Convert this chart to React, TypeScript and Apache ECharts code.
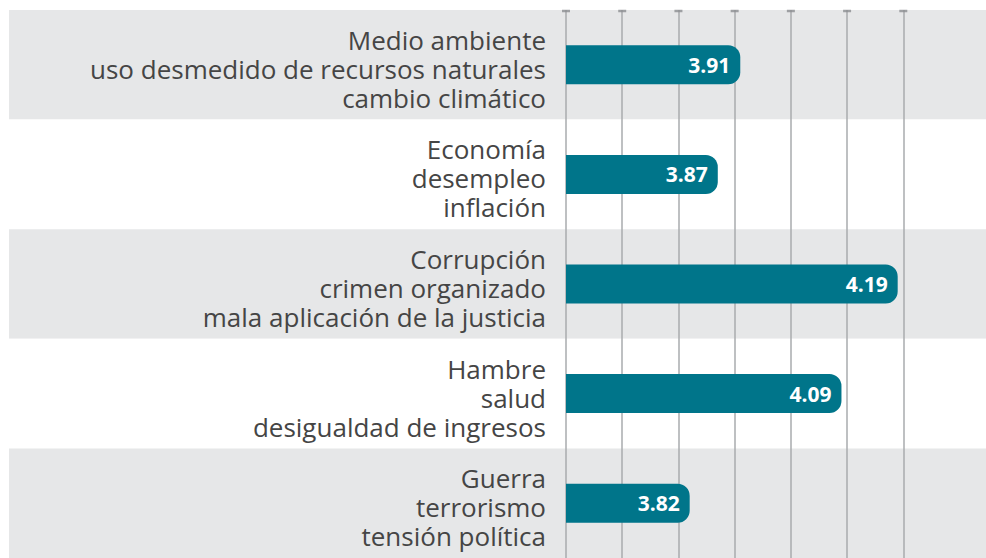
import React, { useEffect, useRef } from "react";
import * as echarts from "echarts";

const categoryLines: string[][] = [
  ["Medio ambiente", "uso desmedido de recursos naturales", "cambio climático"],
  ["Economía", "desempleo", "inflación"],
  ["Corrupción", "crimen organizado", "mala aplicación de la justicia"],
  ["Hambre", "salud", "desigualdad de ingresos"],
  ["Guerra", "terrorismo", "tensión política"],
];
const values: number[] = [3.91, 3.87, 4.19, 4.09, 3.82];
const tickValues: number[] = [3.6, 3.7, 3.8, 3.9, 4.0, 4.1, 4.2];

export default function App() {
  const ref = useRef<HTMLDivElement>(null);
  useEffect(() => {
    if (!ref.current) return;
    const chart = echarts.init(ref.current, null, { renderer: "svg" });
    const categories = categoryLines.map((l) => l.join("\n"));
    const top = 10;
    const height = 555;
    const lineStyle = {
      fontFamily: "Open Sans",
      fontSize: 26,
      lineHeight: 29,
      color: "#454545",
      align: "right",
    };
    chart.setOption({
      animation: false,
      backgroundColor: "#ffffff",
      grid: [
        { left: 9, right: 0, top, height },
        { left: 566, right: 82.7, top, height },
      ],
      xAxis: [
        { type: "value", gridIndex: 0, min: 0, max: 1, show: false },
        {
          type: "value",
          gridIndex: 1,
          min: 3.6,
          max: 4.2,
          interval: 0.1,
          z: 2,
          axisLabel: { show: false },
          axisLine: { show: false },
          axisTick: { show: false },
          splitLine: { show: true, lineStyle: { color: "#a9abae", width: 1.5 } },
        },
      ],
      yAxis: [
        {
          type: "category",
          gridIndex: 0,
          data: categories,
          inverse: true,
          z: 0,
          axisLabel: { show: false },
          axisLine: { show: false },
          axisTick: { show: false },
          splitLine: { show: false },
          splitArea: { show: true, areaStyle: { color: ["#e6e7e8", "#ffffff"] } },
        },
        {
          type: "category",
          gridIndex: 1,
          data: categories,
          inverse: true,
          axisLine: { show: false },
          axisTick: { show: false },
          splitLine: { show: false },
          axisLabel: {
            margin: 20,
            align: "right",
            fontFamily: "Open Sans",
            fontSize: 26,
            lineHeight: 29,
            color: "#454545",
            formatter: (v: string) =>
              "{s| }\n" +
              v
                .split("\n")
                .map((l) => `{n|${l}}`)
                .join("\n"),
            rich: {
              s: { fontSize: 1, lineHeight: 8 },
              n: { ...lineStyle },
            },
          },
        },
        { type: "value", gridIndex: 1, min: 0, max: 1, show: false },
      ],
      series: [
        {
          type: "bar",
          xAxisIndex: 1,
          yAxisIndex: 1,
          data: values,
          barWidth: 39,
          z: 3,
          itemStyle: { color: "#00758a", borderRadius: [0, 12, 12, 0] },
          label: {
            show: true,
            position: "insideRight",
            distance: 10,
            color: "#ffffff",
            fontFamily: "Open Sans",
            fontWeight: "bold",
            fontSize: 21,
            formatter: (p: any) => Number(p.value).toFixed(2),
          },
        },
        {
          type: "scatter",
          xAxisIndex: 1,
          yAxisIndex: 2,
          data: tickValues.map((v) => [v, 1]),
          symbol: "rect",
          symbolSize: [8, 2.5],
          symbolOffset: [0, 1],
          z: 4,
          silent: true,
          itemStyle: { color: "#8c8e91" },
        },
      ],
    });
    return () => chart.dispose();
  }, []);
  return (
    <div
      ref={ref}
      style={{ position: "fixed", left: 0, top: 0, width: 986, height: 558 }}
    />
  );
}
